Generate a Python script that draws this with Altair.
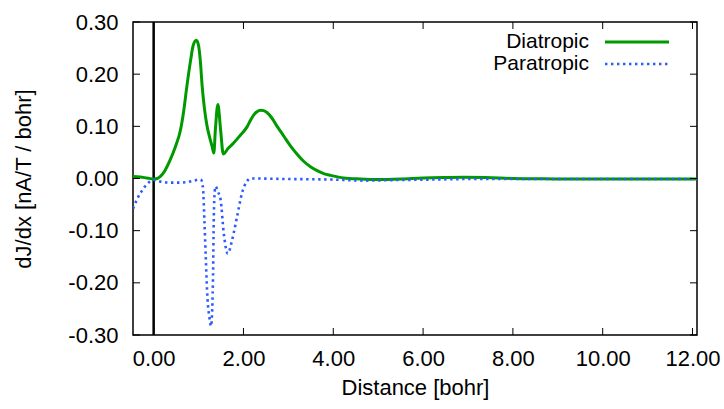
import altair as alt
import pandas as pd

series = ["Diatropic", "Paratropic"]
colors = ["#009a00", "#2b5bff"]

dia_x = [-0.46, -0.3, -0.15, 0.0, 0.08, 0.15, 0.25, 0.37, 0.48, 0.6, 0.67, 0.74, 0.82, 0.88, 0.95,
         1.0, 1.04, 1.08, 1.13, 1.19, 1.25, 1.30, 1.34, 1.375, 1.43, 1.49, 1.55, 1.66, 1.78, 1.93,
         2.08, 2.16, 2.23, 2.30, 2.38, 2.45, 2.53, 2.64, 2.75, 2.90, 3.05, 3.2, 3.34, 3.5, 3.64,
         3.8, 3.94, 4.23, 4.6, 5.0, 5.5, 6.0, 6.5, 6.9, 7.4, 8.0, 8.5, 9.0, 10.0, 11.0, 12.1]
dia_y = [0.004, 0.003, 0.001, -0.001, 0.0, 0.004, 0.015, 0.036, 0.06, 0.094, 0.13, 0.177, 0.225, 0.255, 0.265,
         0.255, 0.225, 0.177, 0.135, 0.10, 0.078, 0.062, 0.049, 0.094, 0.142, 0.094, 0.047, 0.058, 0.068, 0.083,
         0.099, 0.112, 0.122, 0.128, 0.131, 0.130, 0.126, 0.115, 0.100, 0.081, 0.062, 0.046, 0.033, 0.022, 0.015,
         0.009, 0.006, 0.001, -0.001, -0.002, -0.001, 0.001, 0.002, 0.0025, 0.002, 0.0, -0.0005, -0.001, -0.001, -0.001, -0.001]

para_x = [-0.46, -0.37, -0.28, -0.2, -0.1, 0.0, 0.15, 0.37, 0.55, 0.74, 0.9, 1.0, 1.06, 1.10, 1.13, 1.16,
          1.20, 1.24, 1.28, 1.30, 1.32, 1.34, 1.36, 1.38, 1.43, 1.49, 1.56, 1.65, 1.75, 1.86, 1.97, 2.08,
          2.15, 3.0, 3.94, 4.67, 5.4, 6.2, 7.0, 8.0, 10.0, 12.1]
para_y = [-0.058, -0.040, -0.026, -0.016, -0.007, -0.003, -0.006, -0.008, -0.008, -0.007, -0.004, -0.002, -0.003, -0.02, -0.08, -0.15,
          -0.232, -0.265, -0.283, -0.26, -0.2, -0.072, -0.025, -0.015, -0.025, -0.040, -0.104, -0.144, -0.117, -0.072, -0.027, -0.005,
          0.0, -0.001, -0.002, -0.004, -0.003, -0.002, -0.001, -0.001, -0.001, -0.001]

x_ticks = [0, 2, 4, 6, 8, 10, 12]
y_ticks = [-0.3, -0.2, -0.1, 0.0, 0.1, 0.2, 0.3]

W, H = 564, 313
FONT = "Liberation Sans"
FS = 22
LABEL_EXPR = "replace(format(datum.value, '.2f'), '\u2212', '-')"

dia = pd.DataFrame({"x": dia_x, "y": dia_y, "series": series[0]})
para = pd.DataFrame({"x": para_x, "y": para_y, "series": series[1]})

xscale = alt.Scale(domain=[-0.46, 12.1], nice=False, zero=False)
yscale = alt.Scale(domain=[-0.3, 0.3], nice=False, zero=False)

xaxis = alt.Axis(values=x_ticks, labelExpr=LABEL_EXPR, title="Distance [bohr]", grid=False, domain=False,
                 ticks=False, tickSize=0, labelPadding=13, titlePadding=8,
                 labelFont=FONT, titleFont=FONT, labelFontSize=FS, titleFontSize=FS,
                 labelColor="black", titleColor="black", titleFontWeight="normal")
yaxis = alt.Axis(values=y_ticks, labelExpr=LABEL_EXPR, title="dJ/dx [nA/T / bohr]", grid=False, domain=False,
                 ticks=False, tickSize=0, labelPadding=15, titlePadding=32,
                 labelFont=FONT, titleFont=FONT, labelFontSize=FS, titleFontSize=FS,
                 labelColor="black", titleColor="black", titleFontWeight="normal")

zero_line = alt.Chart(pd.DataFrame({"x": [0.0]})).mark_rule(color="black", strokeWidth=2.5).encode(
    x=alt.X("x:Q", scale=xscale, axis=xaxis))

dia_line = alt.Chart(dia).mark_line(color=colors[0], strokeWidth=3, interpolate="monotone", clip=True).encode(
    x=alt.X("x:Q", scale=xscale, axis=xaxis), y=alt.Y("y:Q", scale=yscale, axis=yaxis), order="x:Q")
para_line = alt.Chart(para).mark_line(color=colors[1], strokeWidth=2.6, strokeDash=[2.4, 3.6],
                                      interpolate="monotone", clip=True).encode(
    x=alt.X("x:Q", scale=xscale, axis=xaxis), y=alt.Y("y:Q", scale=yscale, axis=yaxis), order="x:Q")

xt = pd.DataFrame({"v": x_ticks})
yt = pd.DataFrame({"v": y_ticks})
tick_bottom = alt.Chart(xt).mark_rule(color="black", strokeWidth=1).encode(
    x=alt.X("v:Q", scale=xscale, axis=xaxis), y=alt.value(H), y2=alt.value(H - 7))
tick_top = alt.Chart(xt).mark_rule(color="black", strokeWidth=1).encode(
    x=alt.X("v:Q", scale=xscale, axis=xaxis), y=alt.value(0), y2=alt.value(7))
tick_left = alt.Chart(yt).mark_rule(color="black", strokeWidth=1).encode(
    y=alt.Y("v:Q", scale=yscale, axis=yaxis), x=alt.value(0), x2=alt.value(7))
tick_right = alt.Chart(yt).mark_rule(color="black", strokeWidth=1).encode(
    y=alt.Y("v:Q", scale=yscale, axis=yaxis), x=alt.value(W), x2=alt.value(W - 7))

legend_layers = []
for i, (name, col) in enumerate(zip(series, colors)):
    ly = 20 + i * 22
    legend_layers.append(
        alt.Chart(pd.DataFrame({"name": [name]})).mark_text(
            align="right", baseline="middle", font=FONT, fontSize=21, color="black").encode(
            text="name:N", x=alt.value(456), y=alt.value(ly)))
    if i == 0:
        legend_layers.append(
            alt.Chart(pd.DataFrame({"name": [name]})).mark_rule(color=col, strokeWidth=3).encode(
                x=alt.value(472), x2=alt.value(536), y=alt.value(ly)))
    else:
        legend_layers.append(
            alt.Chart(pd.DataFrame({"name": [name]})).mark_rule(
                color=col, strokeWidth=2.6, strokeDash=[2.4, 3.6]).encode(
                x=alt.value(472), x2=alt.value(536), y=alt.value(ly)))

chart = alt.layer(zero_line, dia_line, para_line, tick_bottom, tick_top, tick_left, tick_right,
                  *legend_layers).properties(
    width=W, height=H, autosize="none",
    padding={"left": 133, "top": 22, "right": 724 - 133 - W, "bottom": 409 - 22 - H},
).configure_view(stroke="black", strokeWidth=1.5)

chart.save("out.html", embed_options={"renderer": "svg", "actions": False})
